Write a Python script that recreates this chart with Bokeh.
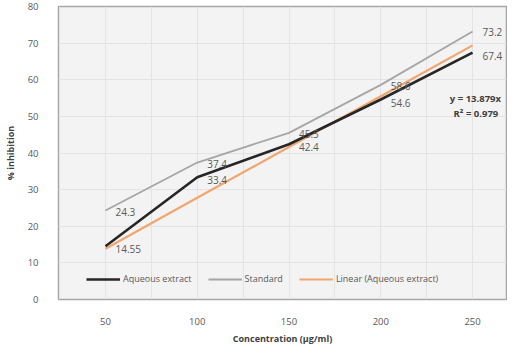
from bokeh.plotting import figure
from bokeh.models import ColumnDataSource, Legend, LegendItem, FixedTicker, Label
from bokeh.core.properties import value
from bokeh.embed import file_html
from bokeh.resources import INLINE

# ---- data ----
concentration = [50, 100, 150, 200, 250]
aqueous = [14.55, 33.4, 42.4, 54.6, 67.4]
standard = [24.3, 37.4, 45.5, 58.6, 73.2]
aqueous_labels = ["14.55", "33.4", "42.4", "54.6", "67.4"]
standard_labels = ["24.3", "37.4", "45.5", "58.6", "73.2"]
trend_slope = 13.879          # from "y = 13.879x" (x = category index 1..5)
trend_index = [1, 2, 3, 4, 5]
equation_text = "y = 13.879x"
r2_text = "R\u00b2 = 0.979"
y_ticks = [0, 10, 20, 30, 40, 50, 60, 70, 80]
x_ticks = [50, 100, 150, 200, 250]

FONT = "Open Sans"
TXT = "#595959"

trend = [trend_slope * i for i in trend_index]

p = figure(width=507, height=347, output_backend="svg", toolbar_location=None,
           x_range=(24.4, 268.5), y_range=(0, 80),
           min_border_left=49, min_border_right=1, min_border_top=6, min_border_bottom=0)

p.background_fill_color = "#f3f3f3"
p.border_fill_color = "white"
p.outline_line_color = "#a6a6a6"
p.outline_line_width = 1.5

# grid
p.xgrid.ticker = FixedTicker(ticks=[25, 50, 75, 100, 125, 150, 175, 200, 225, 250])
p.xgrid.grid_line_color = "#e3e3e3"
p.ygrid.grid_line_color = "#e3e3e3"
p.ygrid.ticker = FixedTicker(ticks=y_ticks)

# axes
for ax in (p.xaxis[0], p.yaxis[0]):
    ax.axis_line_color = None
    ax.major_tick_line_color = None
    ax.minor_tick_line_color = None
    ax.major_label_text_font = FONT
    ax.major_label_text_font_size = "9.5px"
    ax.major_label_text_color = TXT
    ax.axis_label_text_font = FONT
    ax.axis_label_text_font_size = "9px"
    ax.axis_label_text_font_style = "bold"
    ax.axis_label_text_color = "#404040"

p.xaxis.ticker = FixedTicker(ticks=x_ticks)
p.yaxis.ticker = FixedTicker(ticks=y_ticks)
p.xaxis.major_label_standoff = 12
p.yaxis.major_label_standoff = 14
p.xaxis.axis_label = "Concentration (\u00b5g/ml)"
p.yaxis.axis_label = "% inhibition"
p.xaxis.axis_label_standoff = 4
p.yaxis.axis_label_standoff = 8

src_a = ColumnDataSource(dict(x=concentration, y=aqueous, lab=aqueous_labels))
src_s = ColumnDataSource(dict(x=concentration, y=standard, lab=standard_labels))
src_t = ColumnDataSource(dict(x=concentration, y=trend))

r_std = p.line("x", "y", source=src_s, line_color="#a6a6a6", line_width=1.8)
r_tr = p.line("x", "y", source=src_t, line_color="#f2a66e", line_width=2.2)
r_aq = p.line("x", "y", source=src_a, line_color="#262626", line_width=2.6)

p.text("x", "y", text="lab", source=src_s, x_offset=10, y_offset=1,
       text_font=value(FONT), text_font_size="10px", text_color=TXT,
       text_baseline="middle", text_align="left")
p.text("x", "y", text="lab", source=src_a, x_offset=10, y_offset=3,
       text_font=value(FONT), text_font_size="10px", text_color=TXT,
       text_baseline="middle", text_align="left")

p.add_layout(Label(x=265.5, y=201, x_units="data", y_units="screen", text=equation_text,
                   anchor="center_right",
                   text_font=FONT, text_font_size="9.5px", text_font_style="bold",
                   text_color="#404040"))
p.add_layout(Label(x=264, y=186, x_units="data", y_units="screen", text=r2_text,
                   anchor="center_right",
                   text_font=FONT, text_font_size="9.5px", text_font_style="bold",
                   text_color="#404040"))

legend = Legend(items=[LegendItem(label="Aqueous extract", renderers=[r_aq]),
                       LegendItem(label="Standard", renderers=[r_std]),
                       LegendItem(label="Linear (Aqueous extract)", renderers=[r_tr])],
                orientation="horizontal", location=(28, 14),
                background_fill_alpha=0, border_line_color=None,
                label_text_font=FONT, label_text_font_size="9px", label_text_color=TXT,
                glyph_width=34, glyph_height=10, label_standoff=3, spacing=16,
                padding=4, margin=0)
p.add_layout(legend)

open("out.html", "w").write(file_html(p, INLINE))
